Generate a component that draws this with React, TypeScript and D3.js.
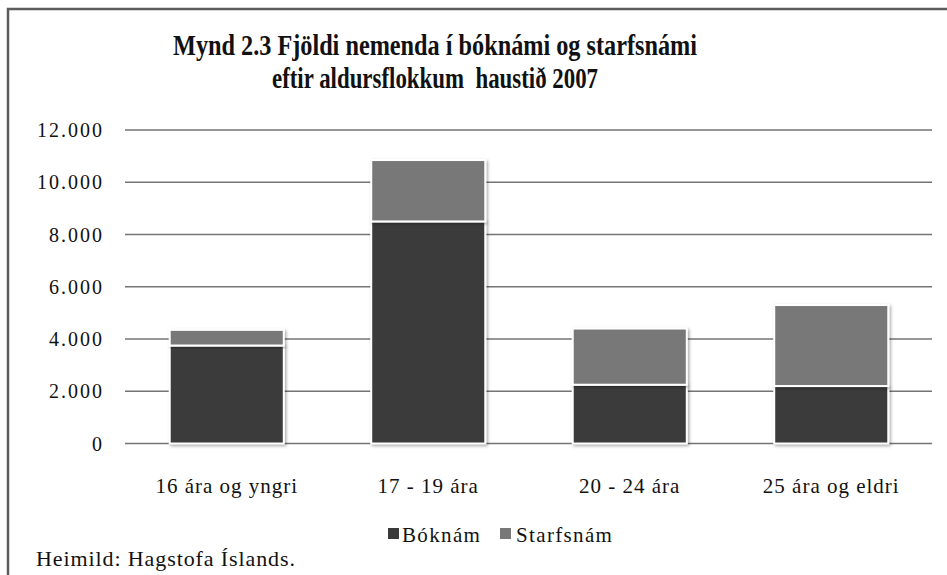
import React from "react";
import * as d3 from "d3";

const categories = ["16 ára og yngri", "17 - 19 ára", "20 - 24 ára", "25 ára og eldri"];
const bokNam = [3750, 8500, 2250, 2200];
const starfsNam = [600, 2350, 2150, 3100];
const yTicks = [0, 2000, 4000, 6000, 8000, 10000, 12000];
const seriesNames = ["Bóknám", "Starfsnám"];
const titleLines = ["Mynd 2.3 Fjöldi nemenda í bóknámi og starfsnámi", "eftir aldursflokkum  haustið 2007"];
const sourceText = "Heimild: Hagstofa Íslands.";

const W = 947;
const H = 575;
const COLORS = ["#3a3a3a", "#787878"];
const FONT = "'Liberation Serif', 'Times New Roman', serif";

const locale = d3.formatLocale({ decimal: ",", thousands: ".", grouping: [3], currency: ["", ""] });
const fmt = locale.format(",d");

export default function App() {
  const plotLeft = 126;
  const plotRight = 932;
  const y = d3.scaleLinear().domain([0, 12000]).range([443.5, 130]);
  const x = d3.scaleBand<string>().domain(categories).range([plotLeft, plotRight]).paddingInner(0.434).paddingOuter(0.217);

  const rows = categories.map((c, i) => ({ cat: c, Bóknám: bokNam[i], Starfsnám: starfsNam[i] }));
  const stacked = d3.stack<any>().keys(seriesNames)(rows);
  const titleWidths = [524, 326];

  return (
    <svg width={W} height={H} style={{ position: "absolute", left: 0, top: 0, background: "#fff" }} fontFamily={FONT}>
      <defs>
        <filter id="sh" x="-20%" y="-20%" width="140%" height="140%">
          <feDropShadow dx="1.5" dy="1.5" stdDeviation="1.5" floodColor="#000" floodOpacity="0.35" />
        </filter>
      </defs>
      <rect x={0} y={0} width={W} height={H} fill="#fff" />
      <path d={`M8,${H} L8,9 L${W},9`} fill="none" stroke="#5c5c5c" strokeWidth={2.5} />
      {titleLines.map((t, i) => (
        <text
          key={i}
          x={435}
          y={55 + i * 33}
          textAnchor="middle"
          fontSize={30}
          fontWeight="bold"
          fill="#111"
          textLength={titleWidths[i]}
          lengthAdjust="spacingAndGlyphs"
          style={{ whiteSpace: "pre" }}
        >
          {t}
        </text>
      ))}
      {yTicks.map((t) => (
        <line key={t} x1={plotLeft - 1} x2={plotRight} y1={y(t)} y2={y(t)} stroke="#747474" strokeWidth={1.6} />
      ))}
      {yTicks.map((t) => (
        <text key={"l" + t} x={104} y={y(t)} dy="0.35em" textAnchor="end" fontSize={20} letterSpacing={2} fill="#111">
          {fmt(t)}
        </text>
      ))}
      {stacked.map((s, si) =>
        s.map((d: any, i: number) => (
          <rect
            key={si + "-" + i}
            x={x(categories[i])!}
            y={y(d[1])}
            width={x.bandwidth()}
            height={y(d[0]) - y(d[1])}
            fill={COLORS[si]}
            stroke="#fff"
            strokeWidth={2}
            filter="url(#sh)"
          />
        ))
      )}
      {categories.map((c) => (
        <text key={c} x={x(c)! + x.bandwidth() / 2} y={493} textAnchor="middle" fontSize={21} letterSpacing={1} fill="#111">
          {c}
        </text>
      ))}
      <g>
        <rect x={388} y={528} width={11} height={11} fill={COLORS[0]} />
        <text x={402} y={542} fontSize={21} letterSpacing={1.35} fill="#111">{seriesNames[0]}</text>
        <rect x={500} y={528} width={11} height={11} fill={COLORS[1]} />
        <text x={516} y={542} fontSize={21} letterSpacing={1.35} fill="#111">{seriesNames[1]}</text>
      </g>
      <text x={36} y={566} fontSize={22} letterSpacing={0.9} fill="#111">{sourceText}</text>
    </svg>
  );
}
